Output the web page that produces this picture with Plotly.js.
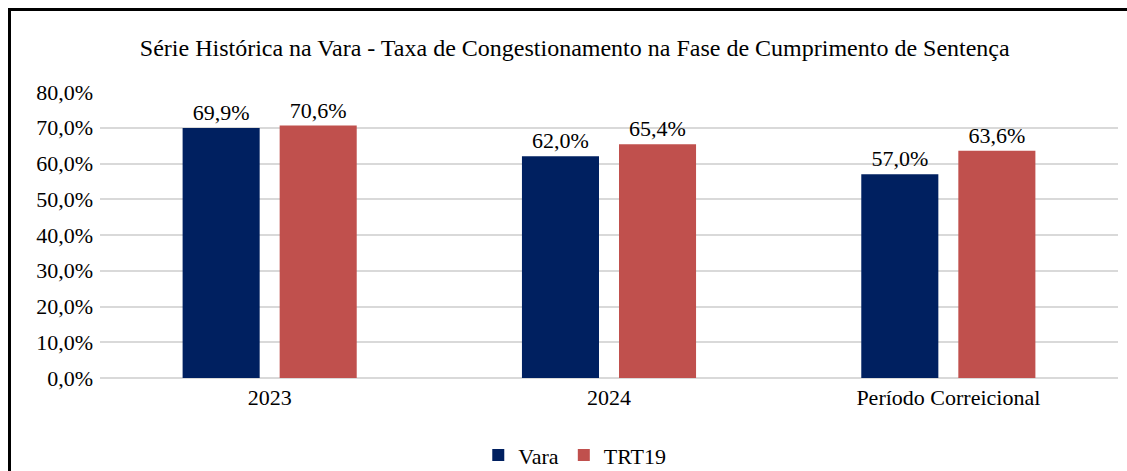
<!DOCTYPE html>
<html>
<head>
<meta charset="utf-8">
<script src="https://cdn.plot.ly/plotly-3.0.1.min.js"></script>
<style>
  html, body { margin: 0; padding: 0; background: #fff; }
  #wrap { position: relative; width: 1127px; height: 471px; overflow: hidden; }
  #chart { width: 1127px; height: 471px; }
  #frame { position: absolute; left: 8px; top: 8px; width: 1200px; height: 600px;
           border-left: 3px solid #000; border-top: 3px solid #000; pointer-events: none; }
</style>
</head>
<body>
<div id="wrap">
  <div id="chart"></div>
  <div id="frame"></div>
</div>
<script>
const categories = ["2023", "2024", "Período Correicional"];
const varaValues = [69.9, 62.0, 57.0];
const trt19Values = [70.6, 65.4, 63.6];
const seriesNames = ["Vara", "TRT19"];
const titleText = "Série Histórica na Vara - Taxa de Congestionamento na Fase de Cumprimento de Sentença";

const font = "Liberation Serif";

const traces = [
  {
    type: "bar", name: seriesNames[0], x: categories, y: varaValues,
    marker: { color: "#002060" },
    texttemplate: "%{y:.1f}%", textposition: "outside", cliponaxis: false,
    textfont: { family: font, size: 22, color: "#000" },
    hoverinfo: "skip"
  },
  {
    type: "bar", name: seriesNames[1], x: categories, y: trt19Values,
    marker: { color: "#C0504D" },
    texttemplate: "%{y:.1f}%", textposition: "outside", cliponaxis: false,
    textfont: { family: font, size: 22, color: "#000" },
    hoverinfo: "skip"
  }
];

const layout = {
  width: 1127, height: 471,
  margin: { l: 100, r: 9, t: 92, b: 93, autoexpand: false },
  paper_bgcolor: "#fff", plot_bgcolor: "#fff",
  separators: ",.",
  font: { family: font, color: "#000", size: 22 },
  title: { text: titleText, font: { family: font, size: 24, color: "#000" },
           xref: "container", x: 0.51, xanchor: "center", y: 0.9, yanchor: "middle" },
  barmode: "group", bargap: 0.428, bargroupgap: 0.206,
  xaxis: { type: "category", showgrid: false, zeroline: false, showline: false, automargin: false,
           ticks: "", ticklabelstandoff: 4, tickfont: { family: font, size: 22, color: "#000" } },
  yaxis: { range: [0, 80], dtick: 10, tick0: 0, tickformat: ".1f", ticksuffix: "%", automargin: false,
           showgrid: true, gridcolor: "#d9d9d9", gridwidth: 2, zeroline: true,
           zerolinecolor: "#d9d9d9", zerolinewidth: 2, showline: false, ticks: "",
           tickfont: { family: font, size: 22, color: "#000" }, ticklabelstandoff: 6 },
  showlegend: true,
  legend: { orientation: "h", xref: "container", x: 0.51, xanchor: "center", y: -0.27, yanchor: "middle",
            font: { family: font, size: 22, color: "#000" }, itemwidth: 30, traceorder: "normal" }
};

Plotly.newPlot("chart", traces, layout, { displayModeBar: false, staticPlot: true });
</script>
</body>
</html>
